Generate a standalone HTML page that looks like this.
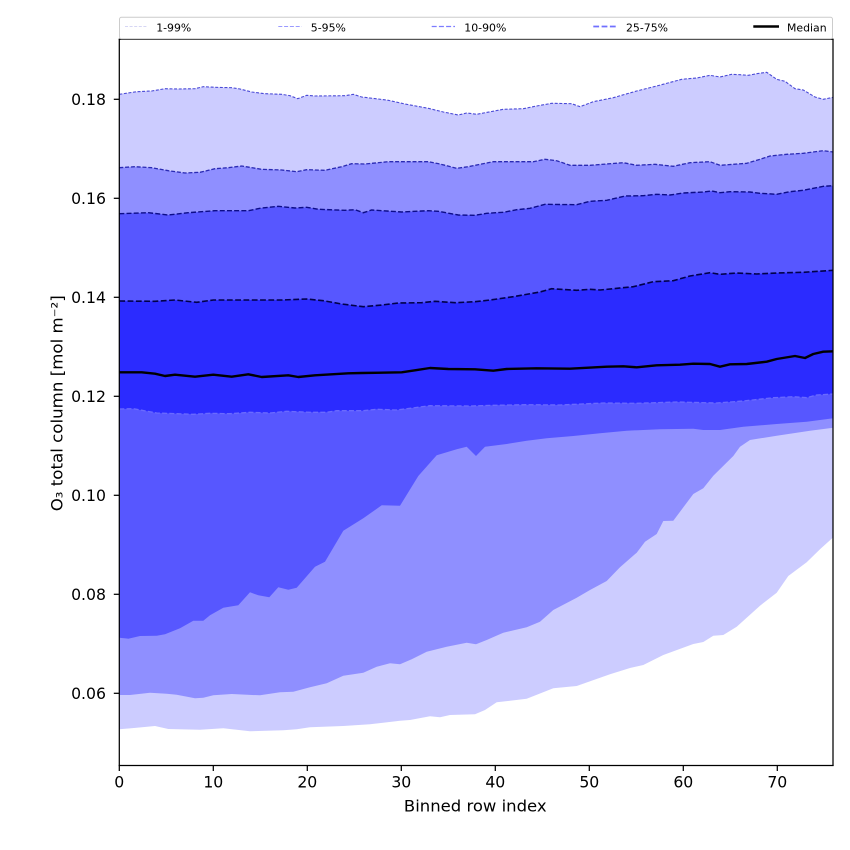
<!DOCTYPE html>
<html>
<head>
<meta charset="utf-8">
<style>
html,body{margin:0;padding:0;background:#fff;}
svg{display:block;}
text{font-family:"DejaVu Sans","Liberation Sans",sans-serif;fill:#000;}
</style>
</head>
<body>
<svg width="850" height="850" viewBox="0 0 850 850" xmlns="http://www.w3.org/2000/svg">
<defs>
<clipPath id="c"><rect x="119.3" y="39" width="714" height="726.5"/></clipPath>
</defs>
<rect width="850" height="850" fill="#fff"/>
<g clip-path="url(#c)">
<!-- 1-99 -->
<path fill="#ccccff" d="M119.3,94.3 L136.7,91.7 151.7,91 165,88.7 178,89 195,88.7 203.3,86.7 215,87.3 231.7,87.7 240,89 251.7,92 265,93.7 281.7,94.3 290,95.7 297.7,98.7 306.7,95.3 315,96 345,95.7 353.3,94.3 361.7,97 378.3,99 388.3,100.3 405,104 428.3,108.3 443.3,112 458.3,115 466.7,113 476.7,114.3 503.3,109.3 523.3,108.7 536.7,106 551.7,103.3 571.7,103.7 580,106.7 593.3,101.7 613.3,97.7 636.7,91 656.7,86 681.7,79.3 696.7,78 710,75.3 720,77 731.7,74.3 740,74.7 748.3,75.3 756.7,73.7 766.7,72.3 776.7,79.3 785,81.3 795,88.7 803.3,90 815,97 823.3,99.3 833.3,97.3 L833.3,537.3 820,549.3 806.7,562.3 788.3,576 776.7,592.7 760,605.7 736.7,626.7 723.3,635 713.3,635.7 703.3,642 693.3,644 663.3,655 643.3,665 630,668 610,674.3 576.7,686 553.3,688.3 526.7,698.7 496.7,702.3 485,710 475,714.3 450,715 440,717.3 430,716.3 410,720 400,720.7 370,724.3 343.3,726 310,727.3 296.7,729.3 283.3,730.3 250,731.3 223.3,728.3 200,729.7 168.3,729 155,726 136.7,727.7 119.3,729.3 Z"/>
<!-- 5-95 -->
<path fill="#8f8fff" d="M119.3,167.7 L135,166.7 151.7,167.7 168.3,170.7 185,173 200,172.3 215,168.7 228.3,167.7 241.7,166 261.7,169.3 281.7,170 296.7,171.7 306.7,169.7 325,170.3 341.7,166.7 351.7,163.7 365,164 388.3,161.7 428.3,161.7 440,164 456.7,168.3 468.3,166.7 493.3,161.7 533.3,161.7 545,159.3 556.7,160.7 570,165.3 590,165.3 623.3,162.7 636.7,165.3 655,164.3 673.3,166.3 690,162.7 710,161.7 720,165.3 746.7,163.3 760,159.3 770,156 786.7,154.3 803.3,153.3 823.3,150.7 833.3,152 L833.3,427.7 810,430.7 776.7,435.7 750,440 740,446.7 733.3,456 713.3,475.7 703.3,488.3 693.3,494 673.3,520.7 663.3,521 656.7,534 645,541.7 636.7,552.7 620,567.3 606.7,581 590,590 576.7,597.7 553.3,610 540,621.7 526.7,627.3 503.3,632.7 486.7,640 476,644.3 466.7,642.7 446.7,646.7 426.7,651.7 411.7,659.3 400,664.3 390,663.3 376.7,666.7 363.3,672.7 343.3,675.7 326.7,683.3 310,687.3 293.3,691.7 280,692.3 260,695.3 231.7,694 213.3,695.3 203.3,697.7 195,698.3 176.7,694.7 166.7,693.7 150,692.7 130,695 119.3,695 Z"/>
<!-- 10-90 -->
<path fill="#5757ff" d="M119.3,213.7 L148.3,212.7 168.3,215 188.3,212.7 215,210.7 248.3,210.7 261.7,208 278.3,206.3 295,208 306.7,207.3 318.3,209.3 345,210.3 355,209.7 363.3,212.7 371.7,210 401.7,212 428.3,210.7 438.3,211.3 458.3,215 475,215.3 486.7,213.3 503.3,212.3 516.7,209.7 530,208.3 545,204.3 576.7,204.7 590,201.3 606.7,200.3 625,196 643.3,195.7 656.7,194.3 670,195 683.3,193 703.3,192 711.7,191 720,192.7 730,191.7 750,192 760,193.3 776.7,194.3 790,191.7 803.3,190.3 823.3,186.3 833.3,185.7 L833.3,418.3 806.7,421.7 776.7,424 743.3,426.7 720,430 703.3,430 693.3,428.7 660,429.3 626.7,430.7 600,433.3 573.3,436 546.7,438.3 526.7,440.7 506.7,444 485,446.7 476,456 466.7,446.7 456.7,449.3 436.7,455.3 418.3,476 400,505.7 381.7,505.3 363.3,518.3 343.3,530.7 325,561.7 315,566.7 296.7,587.7 288.3,589.7 278.3,587.3 269.3,597.3 258.3,595.3 250,592.3 238.3,605.3 223.3,607.7 210,615.3 203.3,620.7 193.3,620.7 180,628.3 165,634.3 156.7,635.7 140,636 128.3,638.7 119.3,637.7 Z"/>
<!-- 25-75 -->
<path fill="#2b2bff" d="M119.3,301 L155,301.3 175,300 196.7,302.3 213.3,300 241.7,300 281.7,300 306.7,299 323.3,300.7 341.7,304 363.3,306.7 381.7,305 398.3,303 421.7,302.7 435,301.3 455,302.7 475,301.7 490,300 513.3,296.7 540,292 551.7,288.7 576.7,290.3 590,289.3 600,290 633.3,286.7 653.3,281.7 673.3,280.7 690,276 710,272.7 720,274.3 736.7,273 756.7,274 776.7,273 803.3,272.3 833.3,270.3 L833.3,394 816.7,395 806.7,397.7 793.3,396.7 773.3,397.7 743.3,401 716.7,403 676.7,402 636.7,403.3 603.3,403 560,405 526.7,404.7 493.3,405.3 470,406 430,405.7 410,408.3 396.7,410 376.7,409.3 363.3,410.7 336.7,410.7 326.7,412.3 310,412.3 286.7,411.3 270,413 250,412.3 230,413.7 210,413.3 193.3,414.3 156.7,413 133.3,408.7 119.3,409 Z"/>

<!-- lower faint line p25 -->
<polyline fill="none" stroke="#6a6aff" stroke-width="1.3" stroke-dasharray="5,2.2" points="119.3,409 133.3,408.7 156.7,413 193.3,414.3 210,413.3 230,413.7 250,412.3 270,413 286.7,411.3 310,412.3 326.7,412.3 336.7,410.7 363.3,410.7 376.7,409.3 396.7,410 410,408.3 430,405.7 470,406 493.3,405.3 526.7,404.7 560,405 603.3,403 636.7,403.3 676.7,402 716.7,403 743.3,401 773.3,397.7 793.3,396.7 806.7,397.7 816.7,395 833.3,394"/>

<!-- upper dashed lines -->
<polyline fill="none" stroke="#4a4ad6" stroke-width="1.1" stroke-dasharray="3,1.6" points="119.3,94.3 136.7,91.7 151.7,91 165,88.7 178,89 195,88.7 203.3,86.7 215,87.3 231.7,87.7 240,89 251.7,92 265,93.7 281.7,94.3 290,95.7 297.7,98.7 306.7,95.3 315,96 345,95.7 353.3,94.3 361.7,97 378.3,99 388.3,100.3 405,104 428.3,108.3 443.3,112 458.3,115 466.7,113 476.7,114.3 503.3,109.3 523.3,108.7 536.7,106 551.7,103.3 571.7,103.7 580,106.7 593.3,101.7 613.3,97.7 636.7,91 656.7,86 681.7,79.3 696.7,78 710,75.3 720,77 731.7,74.3 740,74.7 748.3,75.3 756.7,73.7 766.7,72.3 776.7,79.3 785,81.3 795,88.7 803.3,90 815,97 823.3,99.3 833.3,97.3"/>
<polyline fill="none" stroke="#2a2ab4" stroke-width="1.3" stroke-dasharray="4,1.8" points="119.3,167.7 135,166.7 151.7,167.7 168.3,170.7 185,173 200,172.3 215,168.7 228.3,167.7 241.7,166 261.7,169.3 281.7,170 296.7,171.7 306.7,169.7 325,170.3 341.7,166.7 351.7,163.7 365,164 388.3,161.7 428.3,161.7 440,164 456.7,168.3 468.3,166.7 493.3,161.7 533.3,161.7 545,159.3 556.7,160.7 570,165.3 590,165.3 623.3,162.7 636.7,165.3 655,164.3 673.3,166.3 690,162.7 710,161.7 720,165.3 746.7,163.3 760,159.3 770,156 786.7,154.3 803.3,153.3 823.3,150.7 833.3,152"/>
<polyline fill="none" stroke="#0c0c88" stroke-width="1.4" stroke-dasharray="5,2.2" points="119.3,213.7 148.3,212.7 168.3,215 188.3,212.7 215,210.7 248.3,210.7 261.7,208 278.3,206.3 295,208 306.7,207.3 318.3,209.3 345,210.3 355,209.7 363.3,212.7 371.7,210 401.7,212 428.3,210.7 438.3,211.3 458.3,215 475,215.3 486.7,213.3 503.3,212.3 516.7,209.7 530,208.3 545,204.3 576.7,204.7 590,201.3 606.7,200.3 625,196 643.3,195.7 656.7,194.3 670,195 683.3,193 703.3,192 711.7,191 720,192.7 730,191.7 750,192 760,193.3 776.7,194.3 790,191.7 803.3,190.3 823.3,186.3 833.3,185.7"/>
<polyline fill="none" stroke="#00004a" stroke-width="1.6" stroke-dasharray="5.8,2.5" points="119.3,301 155,301.3 175,300 196.7,302.3 213.3,300 241.7,300 281.7,300 306.7,299 323.3,300.7 341.7,304 363.3,306.7 381.7,305 398.3,303 421.7,302.7 435,301.3 455,302.7 475,301.7 490,300 513.3,296.7 540,292 551.7,288.7 576.7,290.3 590,289.3 600,290 633.3,286.7 653.3,281.7 673.3,280.7 690,276 710,272.7 720,274.3 736.7,273 756.7,274 776.7,273 803.3,272.3 833.3,270.3"/>

<!-- median -->
<polyline fill="none" stroke="#000" stroke-width="2.4" stroke-linejoin="round" points="119.3,372.3 141.7,372.3 155,373.7 165,376 175,374.7 195,376.7 213.3,374.7 231.7,376.7 248.3,374.3 261.7,377 288.3,375.3 298.3,377 315,375.3 348.3,373.3 361.7,373 401.7,372.3 415,370.3 430,368 448.3,369 475,369.3 493.3,370.7 506.7,369 536.7,368.3 570,368.7 606.7,366.7 623.3,366.3 636.7,367.3 656.7,365.3 680,364.7 693.3,363.7 710,364 720,366.7 730,364.3 746.7,364 766.7,361.7 776.7,359 795,356 805,358 813.3,354 823.3,351.7 833.3,351.3"/>
</g>

<!-- spines -->
<g stroke="#000" stroke-width="1.25" fill="none">
<line x1="119.3" y1="39" x2="119.3" y2="766"/>
<line x1="118.7" y1="765.5" x2="833.6" y2="765.5"/>
<line x1="833" y1="39" x2="833" y2="766"/>
<line x1="118.7" y1="39.3" x2="833.6" y2="39.3"/>
</g>

<!-- x ticks -->
<g stroke="#000" stroke-width="1.25">
<line x1="119.3" y1="765.5" x2="119.3" y2="771"/>
<line x1="213.3" y1="765.5" x2="213.3" y2="771"/>
<line x1="307.3" y1="765.5" x2="307.3" y2="771"/>
<line x1="401.3" y1="765.5" x2="401.3" y2="771"/>
<line x1="495.3" y1="765.5" x2="495.3" y2="771"/>
<line x1="589.3" y1="765.5" x2="589.3" y2="771"/>
<line x1="683.3" y1="765.5" x2="683.3" y2="771"/>
<line x1="777.3" y1="765.5" x2="777.3" y2="771"/>
</g>
<g font-size="15.7" text-anchor="middle">
<text x="119.3" y="787.3">0</text>
<text x="213.3" y="787.3">10</text>
<text x="307.3" y="787.3">20</text>
<text x="401.3" y="787.3">30</text>
<text x="495.3" y="787.3">40</text>
<text x="589.3" y="787.3">50</text>
<text x="683.3" y="787.3">60</text>
<text x="777.3" y="787.3">70</text>
</g>
<text x="475.3" y="811.7" font-size="16.2" text-anchor="middle" textLength="142.7" lengthAdjust="spacingAndGlyphs">Binned row index</text>

<!-- y ticks -->
<g stroke="#000" stroke-width="1.25">
<line x1="113.8" y1="99.3" x2="119.3" y2="99.3"/>
<line x1="113.8" y1="198.3" x2="119.3" y2="198.3"/>
<line x1="113.8" y1="297.3" x2="119.3" y2="297.3"/>
<line x1="113.8" y1="396.3" x2="119.3" y2="396.3"/>
<line x1="113.8" y1="495.3" x2="119.3" y2="495.3"/>
<line x1="113.8" y1="594.3" x2="119.3" y2="594.3"/>
<line x1="113.8" y1="693.3" x2="119.3" y2="693.3"/>
</g>
<g font-size="15.7" text-anchor="end">
<text x="106" y="105">0.18</text>
<text x="106" y="204">0.16</text>
<text x="106" y="303">0.14</text>
<text x="106" y="402">0.12</text>
<text x="106" y="501">0.10</text>
<text x="106" y="600">0.08</text>
<text x="106" y="699">0.06</text>
</g>
<text transform="translate(62.3,403.3) rotate(-90)" font-size="15.7" text-anchor="middle" textLength="216" lengthAdjust="spacingAndGlyphs">O₃ total column [mol m⁻²]</text>

<!-- legend -->
<rect x="119.5" y="17.3" width="713" height="21.5" rx="2" ry="2" fill="#fff" fill-opacity="0.8" stroke="#cccccc" stroke-width="1"/>
<g fill="none">
<line x1="125" y1="26.5" x2="147" y2="26.5" stroke="#d6d6f4" stroke-width="1" stroke-dasharray="3,1.6"/>
<line x1="278.3" y1="26.5" x2="301.7" y2="26.5" stroke="#9a9aff" stroke-width="1.1" stroke-dasharray="4,1.8"/>
<line x1="431.7" y1="26.5" x2="455" y2="26.5" stroke="#7c7cff" stroke-width="1.3" stroke-dasharray="5,2.2"/>
<line x1="593.3" y1="26.5" x2="616" y2="26.5" stroke="#7070ff" stroke-width="1.7" stroke-dasharray="5.8,2.5"/>
<line x1="753.3" y1="26.5" x2="779" y2="26.5" stroke="#000" stroke-width="2.4"/>
</g>
<g font-size="10.9">
<text x="156.2" y="31.6">1-99%</text>
<text x="310.8" y="31.6">5-95%</text>
<text x="464.3" y="31.6">10-90%</text>
<text x="626" y="31.6">25-75%</text>
<text x="787" y="31.6">Median</text>
</g>
</svg>
</body>
</html>
